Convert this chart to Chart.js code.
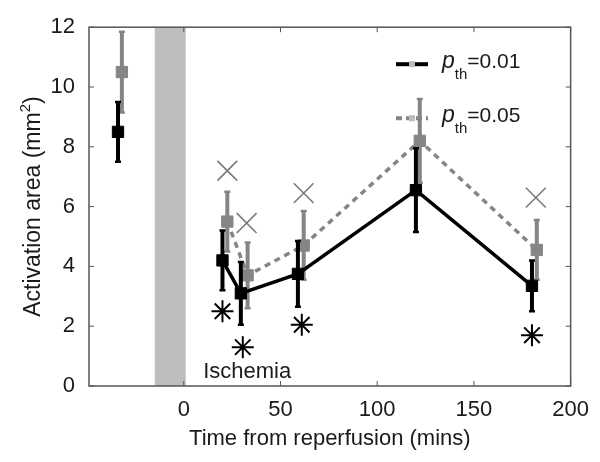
<!DOCTYPE html>
<html>
<head>
<meta charset="utf-8">
<script src="https://cdn.jsdelivr.net/npm/chart.js@4/dist/chart.umd.min.js"></script>
<style>
  html, body { margin: 0; padding: 0; background: #fff; }
  canvas { display: block; }
</style>
</head>
<body>
<canvas id="chart" width="600" height="462"></canvas>
<script>
// p_th = 0.01 (black, solid)
const times01 = [20, 29.5, 59, 120, 180];
const mean01 = [4.2, 3.1, 3.75, 6.55, 3.35];
const err01 = [1.0, 1.05, 1.1, 1.4, 0.85];
const baseTime01 = [-34];
const baseMean01 = [8.5];
const baseErr01 = [1.0];

// p_th = 0.05 (grey, dashed)
const times05 = [22.5, 33, 62, 122, 182.5];
const mean05 = [5.5, 3.7, 4.7, 8.2, 4.55];
const err05 = [1.0, 1.1, 1.15, 1.4, 1.0];
const baseTime05 = [-32];
const baseMean05 = [10.5];
const baseErr05 = [1.35];

// significance markers
const crossTimes = [22.5, 32.5, 62, 182];
const crossValues = [7.2, 5.45, 6.45, 6.3];
const starTimes = [20, 30.5, 61, 180];
const starValues = [2.5, 1.3, 2.05, 1.7];

// ischemia period and axes
const ischemia = [-15, 1];
const ischemiaLabel = { x: 10, y: 0.27, text: "Ischemia" };
const xTicks = [0, 50, 100, 150, 200];
const yTicks = [0, 2, 4, 6, 8, 10, 12];

const BLACK = "#000";
const GREY = "#858585";
const TEXT = "#1a1a1a";
const FONT = "'Liberation Sans', Arial, sans-serif";

const pts = (xs, ys) => xs.map((x, i) => ({ x, y: ys[i] }));

// error bars drawn just under each dataset's own markers
const errorBars = {
  id: "errorBars",
  beforeDatasetDraw(chart, args) {
    const ds = chart.data.datasets[args.index];
    if (!ds.errors) return;
    const { ctx, chartArea, scales } = chart;
    ctx.save();
    ctx.beginPath();
    ctx.rect(chartArea.left, chartArea.top, chartArea.width, chartArea.height);
    ctx.clip();
    ctx.strokeStyle = ds.borderColor;
    ds.data.forEach((p, i) => {
      const x = scales.x.getPixelForValue(p.x);
      const y1 = scales.y.getPixelForValue(p.y + ds.errors[i]);
      const y2 = scales.y.getPixelForValue(p.y - ds.errors[i]);
      ctx.lineWidth = 4;
      ctx.beginPath();
      ctx.moveTo(x, y1);
      ctx.lineTo(x, y2);
      ctx.stroke();
      ctx.lineWidth = 2.5;
      ctx.beginPath();
      ctx.moveTo(x - 3, y1); ctx.lineTo(x + 3, y1);
      ctx.moveTo(x - 3, y2); ctx.lineTo(x + 3, y2);
      ctx.stroke();
    });
    ctx.restore();
  }
};

// grey band, frame with inward ticks, labels and legend
const decor = {
  id: "decor",
  beforeDatasetsDraw(chart) {
    const { ctx, chartArea: a, scales } = chart;
    const x1 = scales.x.getPixelForValue(ischemia[0]);
    const x2 = scales.x.getPixelForValue(ischemia[1]);
    ctx.save();
    ctx.fillStyle = "#bebebe";
    ctx.fillRect(x1, a.top, x2 - x1, a.height);
    ctx.restore();
  },
  afterDatasetsDraw(chart) {
    const { ctx, chartArea: a, scales } = chart;
    ctx.save();
    ctx.strokeStyle = "#555";
    ctx.lineWidth = 1.5;
    ctx.strokeRect(a.left, a.top, a.width, a.height);
    ctx.lineWidth = 1;
    ctx.beginPath();
    xTicks.forEach(t => {
      const x = scales.x.getPixelForValue(t);
      ctx.moveTo(x, a.bottom); ctx.lineTo(x, a.bottom - 5);
      ctx.moveTo(x, a.top); ctx.lineTo(x, a.top + 5);
    });
    yTicks.forEach(t => {
      const y = scales.y.getPixelForValue(t);
      ctx.moveTo(a.left, y); ctx.lineTo(a.left + 5, y);
      ctx.moveTo(a.right, y); ctx.lineTo(a.right - 5, y);
    });
    ctx.stroke();

    // Ischemia label
    ctx.fillStyle = TEXT;
    ctx.font = "22px " + FONT;
    ctx.textBaseline = "alphabetic";
    ctx.fillText(ischemiaLabel.text,
      scales.x.getPixelForValue(ischemiaLabel.x),
      scales.y.getPixelForValue(ischemiaLabel.y));

    // y title with a real superscript
    ctx.save();
    ctx.translate(40, (a.top + a.bottom) / 2);
    ctx.rotate(-Math.PI / 2);
    const main = "Activation area (mm";
    ctx.font = "23px " + FONT;
    const w1 = ctx.measureText(main).width;
    const w3 = ctx.measureText(")").width;
    ctx.font = "15px " + FONT;
    const w2 = ctx.measureText("2").width;
    let tx = -(w1 + w2 + w3) / 2;
    ctx.font = "23px " + FONT;
    ctx.fillText(main, tx, 0);
    tx += w1;
    ctx.font = "15px " + FONT;
    ctx.fillText("2", tx, -10);
    tx += w2;
    ctx.font = "23px " + FONT;
    ctx.fillText(")", tx, 0);
    ctx.restore();

    // legend
    const rows = [
      { color: BLACK, dash: [], label: "=0.01", y: a.top + 37 },
      { color: GREY, dash: [6, 4], label: "=0.05", y: a.top + 91 }
    ];
    const lx = a.left + 307;
    rows.forEach(r => {
      ctx.strokeStyle = r.color;
      ctx.lineWidth = 4;
      ctx.setLineDash(r.dash);
      ctx.beginPath();
      ctx.moveTo(lx, r.y); ctx.lineTo(lx + 32, r.y);
      ctx.stroke();
      ctx.setLineDash([]);
      ctx.fillStyle = "#bbb";
      ctx.fillRect(lx + 13, r.y - 3, 6, 6);
      ctx.fillStyle = TEXT;
      let lxText = lx + 46;
      ctx.font = "italic 23px " + FONT;
      ctx.fillText("p", lxText, r.y + 4);
      lxText += ctx.measureText("p").width;
      ctx.font = "15px " + FONT;
      ctx.fillText("th", lxText, r.y + 15);
      lxText += ctx.measureText("th").width;
      ctx.font = "21px " + FONT;
      ctx.fillText(r.label, lxText, r.y + 4);
    });
    ctx.restore();
  }
};

new Chart(document.getElementById("chart"), {
  type: "line",
  data: {
    datasets: [
      {
        data: pts(times01, mean01), errors: err01,
        borderColor: BLACK, backgroundColor: BLACK, borderWidth: 3.5,
        pointStyle: "rect", pointRadius: 8, pointBorderWidth: 1
      },
      {
        data: pts(baseTime01, baseMean01), errors: baseErr01, showLine: false,
        borderColor: BLACK, backgroundColor: BLACK,
        pointStyle: "rect", pointRadius: 8, pointBorderWidth: 1
      },
      {
        data: pts(times05, mean05), errors: err05,
        borderColor: GREY, backgroundColor: GREY, borderWidth: 3.5, borderDash: [6, 5],
        pointStyle: "rect", pointRadius: 8, pointBorderWidth: 1
      },
      {
        data: pts(baseTime05, baseMean05), errors: baseErr05, showLine: false,
        borderColor: GREY, backgroundColor: GREY,
        pointStyle: "rect", pointRadius: 8, pointBorderWidth: 1
      },
      {
        data: pts(crossTimes, crossValues), showLine: false,
        borderColor: "#7a7a7a", pointStyle: "crossRot", pointRadius: 14, pointBorderWidth: 1.6
      },
      {
        data: pts(starTimes, starValues), showLine: false,
        borderColor: BLACK, pointStyle: "star", pointRadius: 11, pointBorderWidth: 2
      }
    ]
  },
  options: {
    responsive: false,
    animation: false,
    layout: { padding: { top: 16, right: 28, left: 0, bottom: 0 } },
    plugins: { legend: { display: false }, tooltip: { enabled: false } },
    scales: {
      x: {
        type: "linear", min: -49, max: 200,
        afterBuildTicks: s => { s.ticks = xTicks.map(v => ({ value: v })); },
        afterFit: s => { s.height = 76; },
        grid: { display: false, drawTicks: false },
        border: { display: false },
        ticks: { color: TEXT, font: { family: FONT, size: 22 }, padding: 11, maxRotation: 0 },
        title: {
          display: true, text: "Time from reperfusion (mins)", color: TEXT,
          font: { family: FONT, size: 22 }, padding: { top: 0, bottom: 10 }
        }
      },
      y: {
        min: 0, max: 12,
        afterBuildTicks: s => { s.ticks = yTicks.map(v => ({ value: v })); },
        afterFit: s => { s.width = 89; },
        grid: { display: false, drawTicks: false },
        border: { display: false },
        ticks: { color: TEXT, font: { family: FONT, size: 22 }, padding: 14 }
      }
    }
  },
  plugins: [errorBars, decor]
});
</script>
</body>
</html>
